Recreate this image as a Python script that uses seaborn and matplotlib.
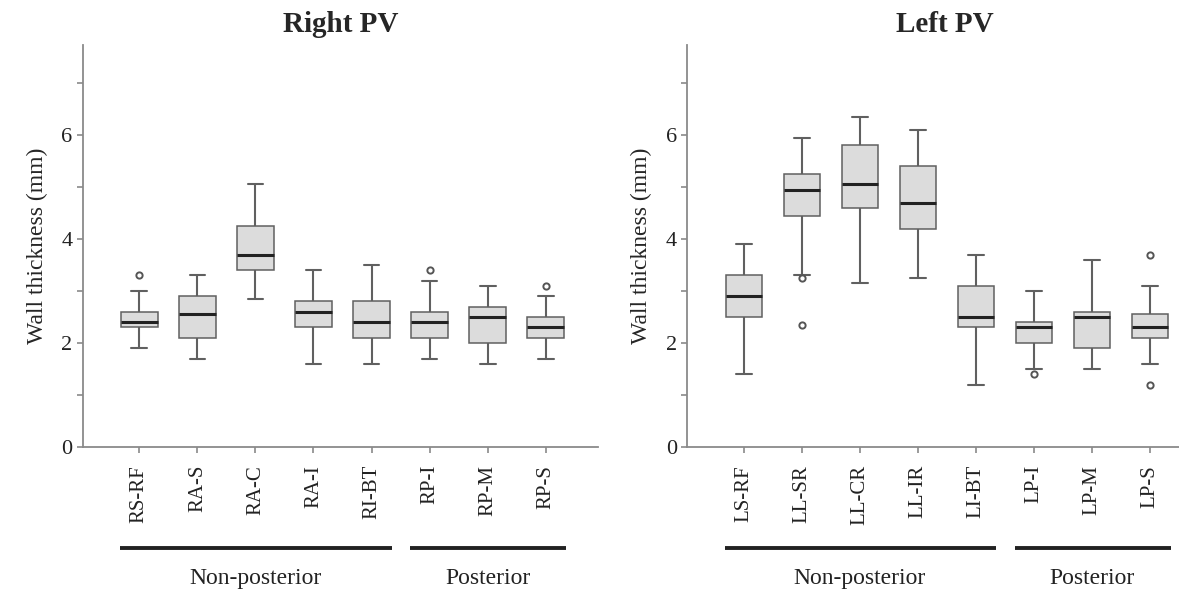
import numpy as np
import pandas as pd
import seaborn as sns
from matplotlib import pyplot as plt

# five-number summaries (low whisker, Q1, median, Q3, high whisker)
right_sites = ["RS-RF", "RA-S", "RA-C", "RA-I", "RI-BT", "RP-I", "RP-M", "RP-S"]
right_low = [1.9, 1.7, 2.85, 1.6, 1.6, 1.7, 1.6, 1.7]
right_q1 = [2.3, 2.1, 3.4, 2.3, 2.1, 2.1, 2.0, 2.1]
right_med = [2.4, 2.55, 3.7, 2.6, 2.4, 2.4, 2.5, 2.3]
right_q3 = [2.6, 2.9, 4.25, 2.8, 2.8, 2.6, 2.7, 2.5]
right_high = [3.0, 3.3, 5.05, 3.4, 3.5, 3.2, 3.1, 2.9]
right_out_site = ["RS-RF", "RP-I", "RP-S"]
right_out_val = [3.3, 3.4, 3.1]

left_sites = ["LS-RF", "LL-SR", "LL-CR", "LL-IR", "LI-BT", "LP-I", "LP-M", "LP-S"]
left_low = [1.4, 3.3, 3.15, 3.25, 1.2, 1.5, 1.5, 1.6]
left_q1 = [2.5, 4.45, 4.6, 4.2, 2.3, 2.0, 1.9, 2.1]
left_med = [2.9, 4.95, 5.05, 4.7, 2.5, 2.3, 2.5, 2.3]
left_q3 = [3.3, 5.25, 5.8, 5.4, 3.1, 2.4, 2.6, 2.55]
left_high = [3.9, 5.95, 6.35, 6.1, 3.7, 3.0, 3.6, 3.1]
left_out_site = ["LL-SR", "LL-SR", "LP-I", "LP-S", "LP-S"]
left_out_val = [3.25, 2.35, 1.4, 3.7, 1.2]

group_names = ["Non-posterior", "Posterior"]
group_spans = [(0, 4), (5, 7)]


def long_table(sites, low, q1, med, q3, high):
    rows = []
    for s, a, b, c, d, e in zip(sites, low, q1, med, q3, high):
        for v in (a, b, c, d, e):
            rows.append({"site": s, "value": v})
    return pd.DataFrame(rows)


sns.set_style("ticks")
plt.rcParams["font.family"] = ["Liberation Serif", "DejaVu Serif"]

fig = plt.figure(figsize=(11.79, 5.93), dpi=100)
ax_r = fig.add_axes([0.0704, 0.2462, 0.4368, 0.678])
ax_l = fig.add_axes([0.5831, 0.2462, 0.4368, 0.678])

panels = [
    (ax_r, "Right PV", right_sites, right_low, right_q1, right_med, right_q3, right_high,
     right_out_site, right_out_val),
    (ax_l, "Left PV", left_sites, left_low, left_q1, left_med, left_q3, left_high,
     left_out_site, left_out_val),
]

for ax, title, sites, low, q1, med, q3, high, out_site, out_val in panels:
    df = long_table(sites, low, q1, med, q3, high)
    sns.boxplot(
        data=df,
        x="site",
        y="value",
        order=sites,
        whis=(0, 100),
        width=0.63,
        color="#dcdcdc",
        saturation=1,
        linecolor="#606060",
        linewidth=1.1,
        medianprops=dict(color="#222222", linewidth=2.2),
        whiskerprops=dict(color="#606060", linewidth=1.5),
        capprops=dict(color="#606060", linewidth=1.5),
        capwidths=0.27,
        ax=ax,
    )
    out_df = pd.DataFrame({"site": out_site, "value": out_val})
    sns.stripplot(
        data=out_df,
        x="site",
        y="value",
        order=sites,
        jitter=False,
        marker="o",
        size=4.5,
        color="white",
        edgecolor="#555555",
        linewidth=1.4,
        ax=ax,
        zorder=5,
    )

    ax.set_xlim(-0.97, 7.9)
    ax.set_ylim(0, 7.73)
    ax.set_yticks(range(0, 8))
    ax.set_yticklabels([str(v) if v % 2 == 0 else "" for v in range(0, 8)])
    ax.set_xlabel("")
    ax.set_ylabel("Wall thickness (mm)", fontsize=17, labelpad=10)
    ax.set_title(title, fontsize=21, fontweight="bold", pad=9)

    sns.despine(ax=ax)
    for side in ("left", "bottom"):
        ax.spines[side].set_color("#8a8a8a")
        ax.spines[side].set_linewidth(1.3)
    ax.tick_params(axis="both", colors="#8a8a8a", length=4, width=1.2,
                   labelcolor="#222222")
    ax.tick_params(axis="y", labelsize=16)
    ax.tick_params(axis="x", labelsize=15, labelrotation=90, pad=9)

    # group bars and names under the site labels
    trans = ax.get_xaxis_transform()
    for name, (a, b) in zip(group_names, group_spans):
        ax.plot([a - 0.33, b + 0.35], [-0.251, -0.251], transform=trans,
                color="#222222", linewidth=2.8, clip_on=False,
                solid_capstyle="butt")
        ax.text((a + b) / 2, -0.326, name, transform=trans, ha="center",
                va="center", fontsize=17, color="#222222")

fig.savefig("out.png", dpi=100)
